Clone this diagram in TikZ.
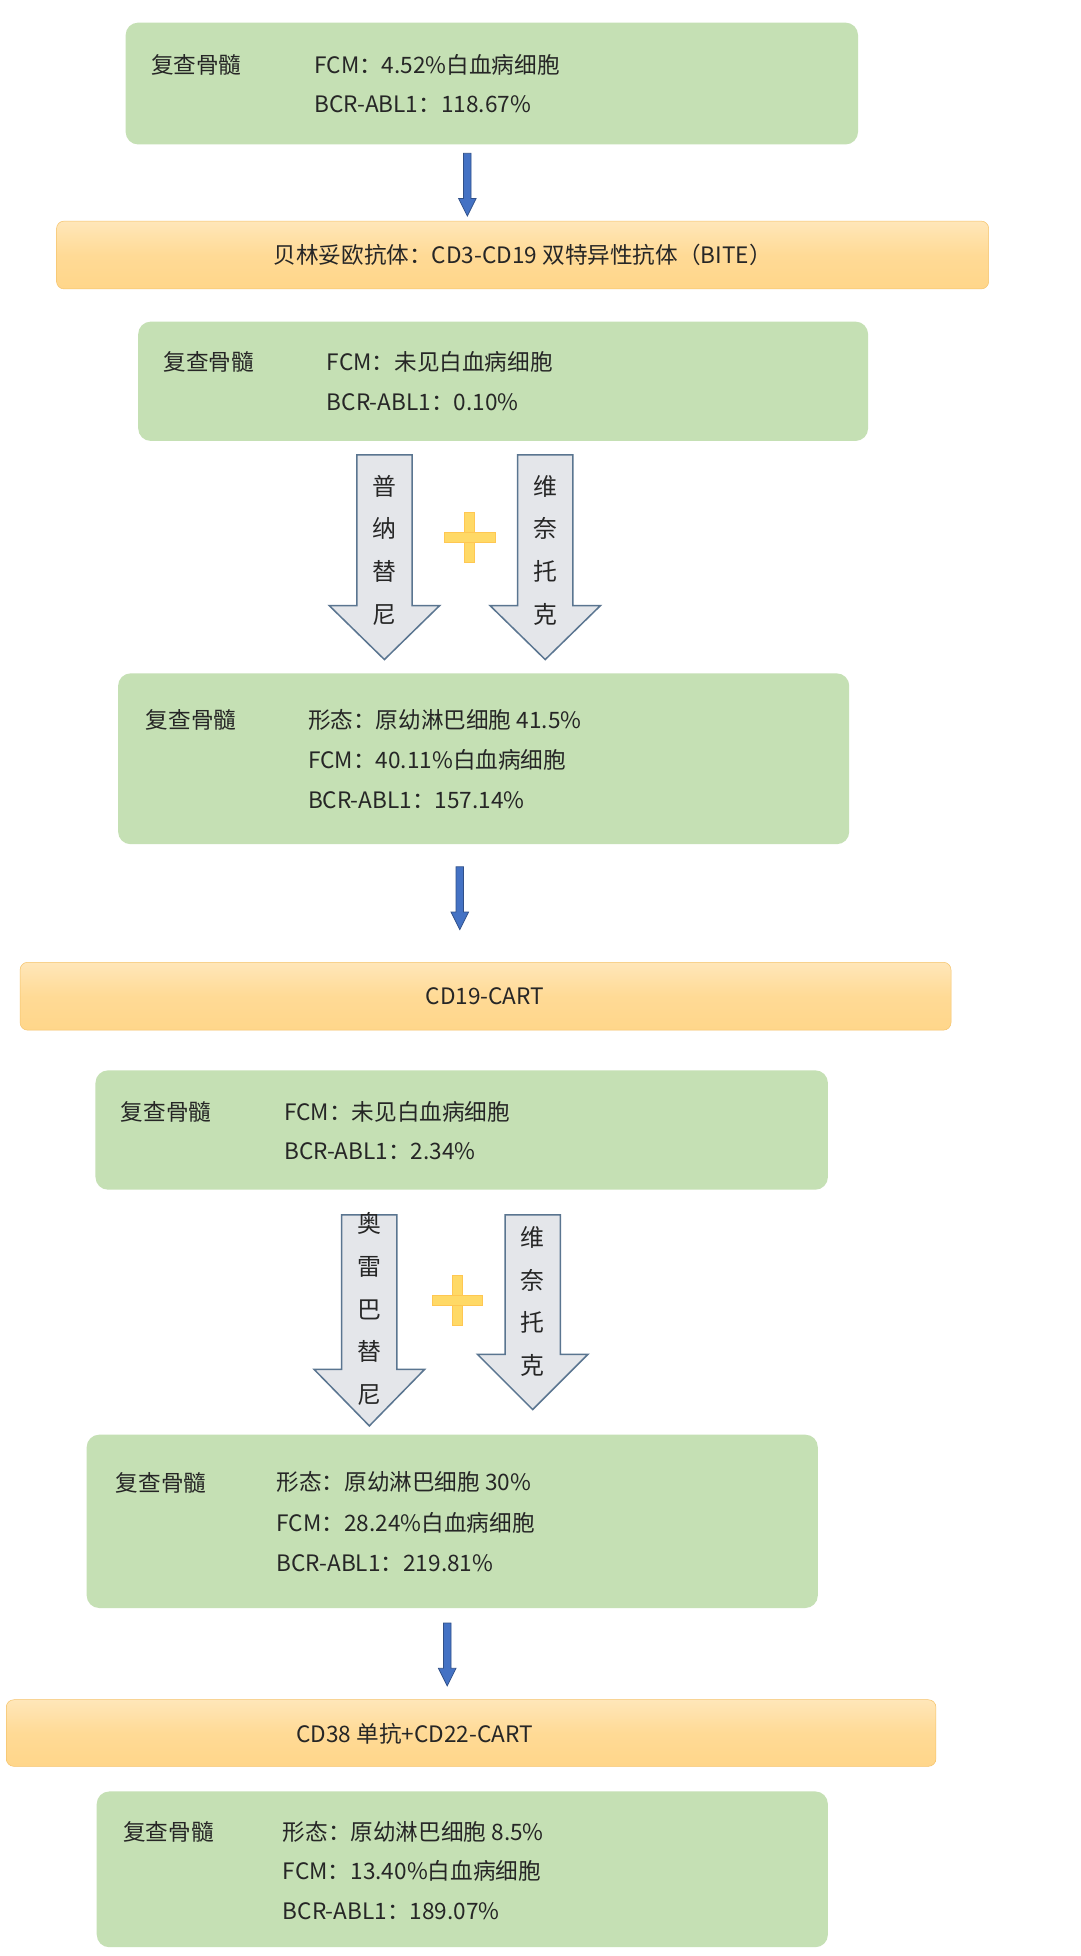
\documentclass[tikz,border=0pt]{standalone}
\usepackage{fontspec}
\setmainfont{Noto Sans CJK SC}
\usetikzlibrary{shapes.arrows}
\definecolor{gbox}{HTML}{C5E0B4}
\definecolor{obar}{HTML}{FFD68A}
\definecolor{oedge}{HTML}{F5C36A}
\definecolor{barrow}{HTML}{4472C4}
\definecolor{garrow}{HTML}{E4E6EA}
\definecolor{gedge}{HTML}{5A7590}
\definecolor{plusc}{HTML}{FFD966}
\tikzset{
 gbx/.style={fill=gbox,draw=none,rounded corners=10pt},
 obx/.style={top color=obar!60,bottom color=obar,middle color=obar!90,draw=oedge,rounded corners=6pt},
 txt/.style={anchor=west,font=\fontsize{18}{20}\selectfont,inner sep=0pt,text=black!85},
 ctxt/.style={font=\fontsize{18}{20}\selectfont,inner sep=0pt,text=black!85},
 barr/.style={fill=barrow,draw=barrow!70!black,line width=0.6pt},
 bigarr/.style={fill=garrow,draw=gedge,line width=1.2pt,line join=miter},
 vt/.style={font=\fontsize{19}{34}\selectfont,align=center,inner sep=0pt,text=black!85},
 plus/.style={fill=plusc,draw=plusc!80!orange,line width=0.6pt}
}
\newcommand{\smallarrow}[3]{% x, ytop, ybottom
 \draw[barr] (#1-3,#2) -- (#1+3,#2) -- (#1+3,#3-14) -- (#1+7,#3-14) -- (#1,#3) -- (#1-7,#3-14) -- (#1-3,#3-14) -- cycle;}
\newcommand{\bigarrow}[5]{% xl, xr, ytop, yhead, ybottom
 \draw[bigarr] ({#1+(#2-#1)*0.25},#3) -- ({#2-(#2-#1)*0.25},#3) -- ({#2-(#2-#1)*0.25},#4) -- (#2,#4) -- ({(#1+#2)/2},#5) -- (#1,#4) -- ({#1+(#2-#1)*0.25},#4) -- cycle;}
\newcommand{\plussign}[2]{%
 \draw[plus] (#1-4,#2-20) rectangle (#1+4,#2+20);
 \draw[plus] (#1-20,#2-4) rectangle (#1+20,#2+4);
 \fill[plusc] (#1-3.5,#2-3.5) rectangle (#1+3.5,#2+3.5);}
\begin{document}
\begin{tikzpicture}[x=1pt,y=-1pt]
\useasboundingbox[fill=white] (0,0) rectangle (860,1557);
% box1
\path[gbx] (100,18) rectangle (683,115);
\node[txt] (b1a) at (120,52) {复查骨髓};
\node[txt] (b1b) at (250,52) {FCM：4.52\%白血病细胞};
\node[txt] (b1c) at (250,83) {BCR-ABL1：118.67\%};
\smallarrow{372}{122}{172}
% bar1
\path[obx] (45,176) rectangle (787,230);
\node[ctxt] (o1) at (416,203) {贝林妥欧抗体：CD3-CD19 双特异性抗体（BITE）};
% box2
\path[gbx] (110,256) rectangle (691,351);
\node[txt] (b2a) at (130,288) {复查骨髓};
\node[txt] (b2b) at (260,288) {FCM：未见白血病细胞};
\node[txt] (b2c) at (260,320) {BCR-ABL1：0.10\%};
\bigarrow{262}{350}{362}{482}{525}
\node[vt] (v1) at (306,438) {普\\纳\\替\\尼};
\bigarrow{390}{478}{362}{482}{525}
\node[vt] (v2) at (434,438) {维\\奈\\托\\克};
\plussign{374}{428}
% box3
\path[gbx] (94,536) rectangle (676,672);
\node[txt] (b3a) at (116,573) {复查骨髓};
\node[txt] (b3b) at (245,573) {形态：原幼淋巴细胞 41.5\%};
\node[txt] (b3c) at (245,605) {FCM：40.11\%白血病细胞};
\node[txt] (b3d) at (245,637) {BCR-ABL1：157.14\%};
\smallarrow{366}{690}{740}
% bar2
\path[obx] (16,766) rectangle (757,820);
\node[ctxt] (o2) at (386,793) {CD19-CART};
% box4
\path[gbx] (76,852) rectangle (659,947);
\node[txt] (b4a) at (96,885) {复查骨髓};
\node[txt] (b4b) at (226,885) {FCM：未见白血病细胞};
\node[txt] (b4c) at (226,916) {BCR-ABL1：2.34\%};
\bigarrow{250}{338}{967}{1090}{1135}
\node[vt] (v3) at (294,1042) {奥\\雷\\巴\\替\\尼};
\bigarrow{380}{468}{967}{1078}{1122}
\node[vt] (v4) at (424,1036) {维\\奈\\托\\克};
\plussign{364}{1035}
% box5
\path[gbx] (69,1142) rectangle (651,1280);
\node[txt] (b5a) at (92,1180) {复查骨髓};
\node[txt] (b5b) at (220,1180) {形态：原幼淋巴细胞 30\%};
\node[txt] (b5c) at (220,1212) {FCM：28.24\%白血病细胞};
\node[txt] (b5d) at (220,1244) {BCR-ABL1：219.81\%};
\smallarrow{356}{1292}{1342}
% bar3
\path[obx] (5,1353) rectangle (745,1406);
\node[ctxt] (o3) at (330,1380) {CD38 单抗+CD22-CART};
% box6
\path[gbx] (77,1426) rectangle (659,1550);
\node[txt] (b6a) at (98,1458) {复查骨髓};
\node[txt] (b6b) at (225,1458) {形态：原幼淋巴细胞 8.5\%};
\node[txt] (b6c) at (225,1489) {FCM：13.40\%白血病细胞};
\node[txt] (b6d) at (225,1521) {BCR-ABL1：189.07\%};
\end{tikzpicture}
\end{document}
